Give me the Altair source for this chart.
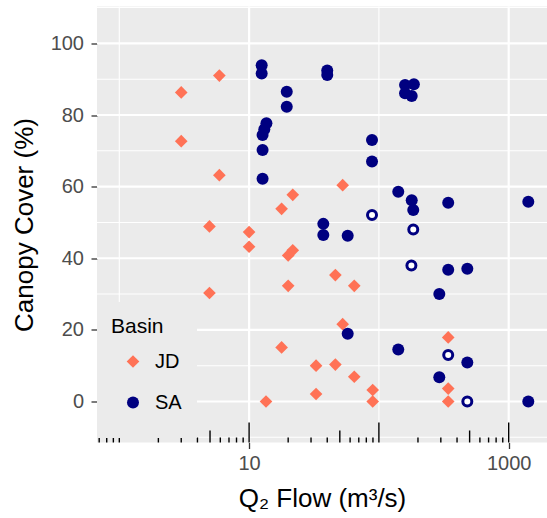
import altair as alt
import pandas as pd

# Basin JD (diamonds)
jd_flow = [5.9, 3.0, 3.0, 5.9, 52.6, 21.7, 17.8, 4.95, 10.0, 10.0, 21.7, 20.0, 46.2, 20.0,
           64.6, 4.95, 52.6, 342, 17.8, 32.8, 46.2, 64.6, 89.6, 342, 32.8, 13.5, 89.6, 342]
jd_cover = [91.0, 86.3, 72.7, 63.2, 60.4, 57.7, 53.8, 48.9, 47.3, 43.2, 42.2, 40.8, 35.3, 32.3,
            32.3, 30.3, 21.6, 17.9, 15.1, 10.0, 10.3, 6.9, 3.2, 3.6, 2.1, 0.0, 0.0, 0.0]

# Basin SA (filled circles)
sa_flow = [12.5, 12.5, 19.5, 19.5, 40.0, 40.0, 13.6, 13.1, 12.7, 12.7, 12.7, 159, 186, 159, 179,
           88.5, 88.5, 141, 179, 184, 342, 1416, 37.3, 37.3, 57.5, 342, 480, 292, 57.5, 141,
           480, 292, 1416]
sa_cover = [93.9, 91.6, 86.5, 82.3, 92.4, 91.2, 77.7, 76.0, 74.4, 70.2, 62.2, 88.4, 88.6, 86.1,
            85.3, 73.0, 67.0, 58.6, 56.2, 53.5, 55.5, 55.8, 49.6, 46.5, 46.3, 36.8, 37.1, 30.0,
            18.9, 14.5, 10.9, 6.8, 0.0]

# Basin SA sites drawn as open circles
sa_open_flow = [88.5, 184, 178, 342, 480]
sa_open_cover = [52.1, 48.0, 38.0, 13.0, 0.0]

basins = ["JD", "SA"]
basin_colors = ["#FF7256", "#000080"]
basin_shapes = ["diamond", "circle"]
basin_sizes = [160, 144]

# Axis breaks and grid lines
x_labels = [10, 1000]
x_grid_major = [10, 1000]
x_grid_minor = [1, 100]
y_labels = [0, 20, 40, 60, 80, 100]
y_grid_minor = [-10, 10, 30, 50, 70, 90, 110]

# Log tick marks along the bottom of the panel
log_long = [1, 10, 100, 1000]
log_mid = [5, 50, 500]
log_short = [0.7, 0.8, 0.9, 2, 3, 4, 6, 7, 8, 9, 20, 30, 40, 60, 70, 80, 90,
             200, 300, 400, 600, 700, 800, 900]

x_domain = [0.6733, 1973]
y_domain = [-11.45, 110.3]
W, H = 450, 436
FONT = "Liberation Sans"

pts = pd.DataFrame({
    "flow": jd_flow + sa_flow,
    "cover": jd_cover + sa_cover,
    "basin": ["JD"] * len(jd_flow) + ["SA"] * len(sa_flow),
})
open_pts = pd.DataFrame({"flow": sa_open_flow, "cover": sa_open_cover})

xs = alt.Scale(type="log", domain=x_domain, nice=False)
ys = alt.Scale(domain=y_domain, nice=False, zero=False)

x_axis = alt.Axis(values=x_labels, format="d", title="Q₂ Flow (m³/s)", grid=False,
                  titlePadding=12, labelPadding=5)
y_axis = alt.Axis(values=y_labels, title="Canopy Cover (%)", grid=False,
                  titlePadding=13, labelPadding=7.5)


def vrules(vals, width):
    return alt.Chart(pd.DataFrame({"v": vals})).mark_rule(
        color="white", strokeWidth=width
    ).encode(x=alt.X("v:Q", scale=xs, axis=x_axis))


def hrules(vals, width):
    return alt.Chart(pd.DataFrame({"v": vals})).mark_rule(
        color="white", strokeWidth=width
    ).encode(y=alt.Y("v:Q", scale=ys, axis=y_axis))


def logticks(vals, length):
    return alt.Chart(pd.DataFrame({"v": vals})).mark_rule(
        color="black", strokeWidth=1.4
    ).encode(
        x=alt.X("v:Q", scale=xs, axis=x_axis),
        y=alt.value(H),
        y2=alt.value(H - length),
    )


legend = alt.Legend(
    title="Basin", orient="none", legendX=0, legendY=295.5,
    fillColor="#EBEBEB", strokeColor="#EBEBEB", padding=14,
    titleFont=FONT, titleFontSize=21, titleFontWeight="normal", titleColor="black",
    labelFont=FONT, labelFontSize=20, labelColor="black",
    symbolSize=150, symbolStrokeWidth=0, clipHeight=41, rowPadding=0,
    titlePadding=4, symbolOffset=12, labelOffset=12,
)

main = alt.Chart(pts).mark_point(filled=True, opacity=1).encode(
    x=alt.X("flow:Q", scale=xs, axis=x_axis),
    y=alt.Y("cover:Q", scale=ys, axis=y_axis),
    color=alt.Color("basin:N", scale=alt.Scale(domain=basins, range=basin_colors), legend=legend),
    shape=alt.Shape("basin:N", scale=alt.Scale(domain=basins, range=basin_shapes), legend=legend),
    size=alt.Size("basin:N", scale=alt.Scale(domain=basins, range=basin_sizes), legend=None),
)

hollow = alt.Chart(open_pts).mark_point(
    shape="circle", filled=True, fill="white", stroke="#000080",
    strokeWidth=3, size=81, opacity=1
).encode(
    x=alt.X("flow:Q", scale=xs, axis=x_axis),
    y=alt.Y("cover:Q", scale=ys, axis=y_axis),
)

chart = alt.layer(
    vrules(x_grid_minor, 1.1),
    hrules(y_grid_minor, 1.1),
    vrules(x_grid_major, 2.2),
    hrules(y_labels, 2.2),
    logticks(log_short, 5),
    logticks(log_mid, 12),
    logticks(log_long, 20),
    main,
    hollow,
).properties(
    width=W, height=H,
    autosize=alt.AutoSizeParams(type="none"),
    padding={"left": 97, "top": 6.5, "right": 0, "bottom": 75.5},
).configure_view(
    fill="#EBEBEB", stroke=None
).configure_axis(
    labelFont=FONT, labelFontSize=20, labelColor="#4D4D4D",
    titleFont=FONT, titleFontSize=26, titleFontWeight="normal", titleColor="black",
    tickColor="#333333", tickSize=6, tickWidth=1.3, domain=False,
)

chart.save("out.html", embed_options={"renderer": "svg", "actions": False})
